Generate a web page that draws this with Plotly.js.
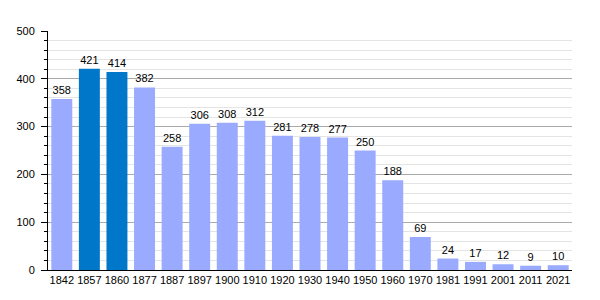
<!DOCTYPE html>
<html><head><meta charset="utf-8">
<script src="https://cdn.plot.ly/plotly-3.0.1.min.js"></script>
<style>body{margin:0}#c{width:600px;height:300px}</style>
</head><body><div id="c"></div>
<script>
const years = ["1842","1857","1860","1877","1887","1897","1900","1910","1920","1930","1940","1950","1960","1970","1981","1991","2001","2011","2021"];
const population = [358,421,414,382,258,306,308,312,281,278,277,250,188,69,24,17,12,9,10];
const highlighted = ["1857","1860"];
const lightColor = "#99aaff", darkColor = "#0077c8";
const colors = years.map(y => highlighted.includes(y) ? darkColor : lightColor);
Plotly.newPlot("c", [{
  type: "bar", x: years, y: population,
  marker: {color: colors},
  text: population.map(String), textposition: "outside",
  textfont: {family: "Liberation Sans, Arial, sans-serif", size: 11, color: "#000"},
  cliponaxis: false, hoverinfo: "none"
}], {
  width: 600, height: 300,
  margin: {l: 48, r: 28, t: 31, b: 30},
  paper_bgcolor: "#fff", plot_bgcolor: "#fff",
  bargap: 0.24,
  font: {family: "Liberation Sans, Arial, sans-serif", size: 11, color: "#000"},
  xaxis: {type: "category", showline: true, linecolor: "#000", linewidth: 1, ticks: "", showgrid: false, tickfont: {size: 11}, fixedrange: true},
  yaxis: {range: [0, 500], dtick: 100, showline: true, linecolor: "#000", linewidth: 1,
    ticks: "outside", ticklen: 6, tickcolor: "#000", ticklabelstandoff: 4,
    gridcolor: "#aaaaaa", gridwidth: 1, zeroline: false,
    minor: {dtick: 20, showgrid: true, gridcolor: "#e4e4e4", ticks: "outside", ticklen: 3, tickcolor: "#000"},
    tickfont: {size: 11}, fixedrange: true}
}, {displayModeBar: false, staticPlot: true});
</script></body></html>
